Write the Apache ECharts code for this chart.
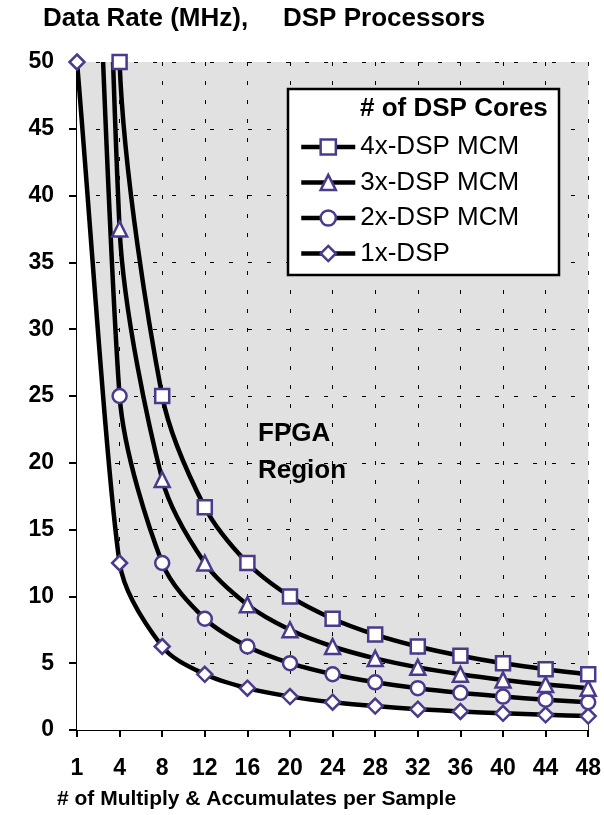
<!DOCTYPE html>
<html><head><meta charset="utf-8">
<script src="https://cdn.jsdelivr.net/npm/echarts@6/dist/echarts.min.js"></script>
<style>html,body{margin:0;padding:0;background:#fff}#c{width:604px;height:815px}</style>
</head><body><div id="c"></div>
<script>
var categories = ['1','4','8','12','16','20','24','28','32','36','40','44','48'];
var dsp4x = [200, 50, 25, 16.67, 12.5, 10, 8.33, 7.14, 6.25, 5.56, 5, 4.55, 4.17];
var dsp3x = [150, 37.5, 18.75, 12.5, 9.38, 7.5, 6.25, 5.36, 4.69, 4.17, 3.75, 3.41, 3.13];
var dsp2x = [100, 25, 12.5, 8.33, 6.25, 5, 4.17, 3.57, 3.13, 2.78, 2.5, 2.27, 2.08];
var dsp1x = [50, 12.5, 6.25, 4.17, 3.13, 2.5, 2.08, 1.79, 1.56, 1.39, 1.25, 1.14, 1.04];
var seriesNames = ['4x-DSP MCM','3x-DSP MCM','2x-DSP MCM','1x-DSP'];
var yTicks = {min:0, max:50, interval:5};

var FONT = 'Liberation Sans, Arial, sans-serif';
var MK = '#4b3a8c';
var TENSION = 0.15;
var chart = echarts.init(document.getElementById('c'));

// smooth bezier path through the data points (pixel coords from the axes)
function smoothPath(api, values, closeToBase) {
  var pts = values.map(function (v, i) { return api.coord([i, v]); });
  var n = pts.length;
  function tan(i) {
    var a = pts[Math.max(i - 1, 0)], b = pts[Math.min(i + 1, n - 1)];
    var k = (i === 0 || i === n - 1) ? 2 : 1;
    return [(b[0] - a[0]) * k * TENSION, (b[1] - a[1]) * k * TENSION];
  }
  function cap(v, seg) {
    var len = Math.sqrt(v[0] * v[0] + v[1] * v[1]);
    var mx = seg / 3;
    if (len > mx && len > 0) { return [v[0] * mx / len, v[1] * mx / len]; }
    return v;
  }
  var d = 'M' + pts[0][0] + ' ' + pts[0][1];
  for (var i = 0; i < n - 1; i++) {
    var p0 = pts[i], p1 = pts[i + 1];
    var seg = Math.sqrt(Math.pow(p1[0] - p0[0], 2) + Math.pow(p1[1] - p0[1], 2));
    var t0 = cap(tan(i), seg), t1 = cap(tan(i + 1), seg);
    var c1 = [p0[0] + t0[0], p0[1] + t0[1]];
    var c2 = [p1[0] - t1[0], p1[1] - t1[1]];
    d += ' C' + c1[0] + ' ' + c1[1] + ' ' + c2[0] + ' ' + c2[1] + ' ' + p1[0] + ' ' + p1[1];
  }
  if (closeToBase) {
    var b0 = api.coord([n - 1, 0]), b1 = api.coord([0, 0]);
    d += ' L' + b0[0] + ' ' + b0[1] + ' L' + b1[0] + ' ' + b1[1] + ' Z';
  }
  return d;
}

function curveSeries(values, isArea) {
  return {
    type: 'custom', data: [[0, 0]], clip: true, silent: true, z: isArea ? 1 : 2,
    encode: {x: 0, y: 1},
    renderItem: function (params, api) {
      return {
        type: 'path',
        shape: {pathData: smoothPath(api, values, isArea)},
        style: isArea ? {fill: '#fff', stroke: null} : {fill: null, stroke: '#000', lineWidth: 4.5, lineJoin: 'round'}
      };
    }
  };
}

function markerSeries(name, data, symbol, size) {
  return {
    name: name, type: 'line', data: data, clip: true,
    symbol: symbol, symbolSize: size, showAllSymbol: true,
    lineStyle: {color: '#000', width: 4.5, opacity: 0},
    itemStyle: {color: '#fff', borderColor: MK, borderWidth: 2.5},
    emphasis: {disabled: true}, z: 5
  };
}

var option = {
  animation: false,
  grid: {left: 77, right: 14, top: 62, bottom: 85, show: true, backgroundColor: '#e1e1e1', borderWidth: 0},
  xAxis: [{
    type: 'category', data: categories, boundaryGap: false,
    axisLine: {lineStyle: {color: '#000', width: 2}},
    axisTick: {show: true, length: 7, lineStyle: {color: '#000', width: 2}},
    axisLabel: {color: '#000', fontFamily: FONT, fontWeight: 'bold', fontSize: 23, margin: 27, interval: 0},
    splitLine: {show: true, lineStyle: {color: '#000', width: 1, type: [4, 15]}}
  }, {
    type: 'category', data: categories, boundaryGap: false, position: 'bottom',
    axisLine: {show: false},
    axisTick: {show: true, inside: true, length: 7, lineStyle: {color: '#000', width: 2}},
    axisLabel: {show: false}, splitLine: {show: false}
  }],
  yAxis: [{
    type: 'value', min: yTicks.min, max: yTicks.max, interval: yTicks.interval,
    axisLine: {show: true, lineStyle: {color: '#000', width: 2}},
    axisTick: {show: true, length: 8, lineStyle: {color: '#000', width: 2}},
    axisLabel: {color: '#000', fontFamily: FONT, fontWeight: 'bold', fontSize: 23, margin: 23},
    splitLine: {show: true, lineStyle: {color: '#000', width: 1, type: [4, 15]}}
  }, {
    type: 'value', min: yTicks.min, max: yTicks.max, interval: yTicks.interval, position: 'left',
    axisLine: {show: false},
    axisTick: {show: true, inside: true, length: 7, lineStyle: {color: '#000', width: 2}},
    axisLabel: {show: false}, splitLine: {show: false}
  }],
  legend: {
    orient: 'vertical', left: 294, top: 129, itemGap: 9.5, itemWidth: 54, itemHeight: 19,
    data: seriesNames,
    lineStyle: {width: 4.5, color: '#000', opacity: 1, type: 'solid'},
    itemStyle: {borderWidth: 2.5, borderColor: MK, color: '#fff'},
    textStyle: {fontFamily: FONT, fontSize: 26, color: '#000'},
    z: 20
  },
  series: [
    curveSeries(dsp1x, true),
    curveSeries(dsp1x, false),
    curveSeries(dsp2x, false),
    curveSeries(dsp3x, false),
    curveSeries(dsp4x, false),
    markerSeries(seriesNames[3], dsp1x, 'diamond', 15),
    markerSeries(seriesNames[2], dsp2x, 'circle', 14),
    markerSeries(seriesNames[1], dsp3x, 'triangle', 15),
    markerSeries(seriesNames[0], dsp4x, 'rect', 14)
  ],
  graphic: [
    {type: 'text', left: 43, top: 6, style: {text: 'Data Rate (MHz),', font: 'bold 26px ' + FONT, fill: '#000'}},
    {type: 'text', left: 283, top: 6, style: {text: 'DSP Processors', font: 'bold 26px ' + FONT, fill: '#000'}},
    {type: 'text', left: 57, top: 789, style: {text: '# of Multiply & Accumulates per Sample', font: 'bold 21px ' + FONT, fill: '#000'}},
    {type: 'text', left: 258, top: 415, style: {text: 'FPGA\nRegion', font: 'bold 26px ' + FONT, fill: '#000', lineHeight: 37}},
    {type: 'text', left: 100, top: 650, style: {text: 'DSP\nRegion', font: 'bold 20px ' + FONT, fill: '#000', lineHeight: 28}},
    {type: 'rect', z: 10, shape: {x: 288, y: 89, width: 271, height: 186}, style: {fill: '#fff', stroke: '#000', lineWidth: 2.5}},
    {type: 'text', z: 11, left: 360, top: 96, style: {text: '# of DSP Cores', font: 'bold 26px ' + FONT, fill: '#000'}}
  ]
};
chart.setOption(option);
</script></body></html>
